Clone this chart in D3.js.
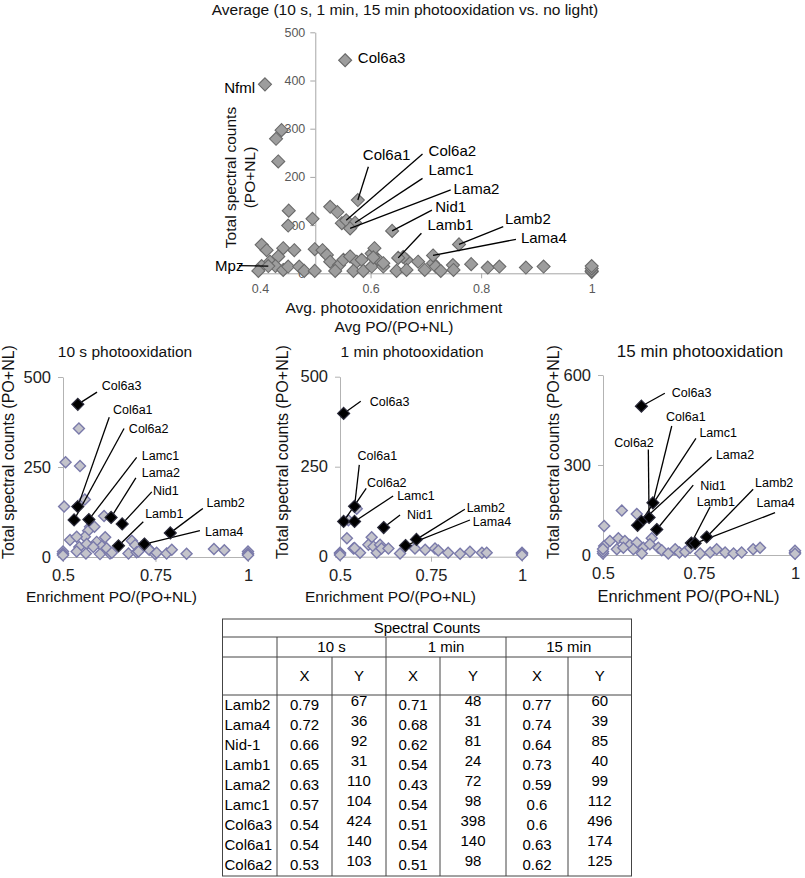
<!DOCTYPE html>
<html><head><meta charset="utf-8">
<script src="https://cdn.jsdelivr.net/npm/d3@7"></script>
<style>
body{margin:0;background:#fff}
svg text{font-family:Arial,"Liberation Sans",Helvetica,sans-serif}
</style>
</head><body>
<svg id="c" width="805" height="878"></svg>
<script>
// ---------------- DATA ----------------
// Top chart: averages of 10 s, 1 min, 15 min (x = Avg PO/(PO+NL), y = total spectral counts)
const avgOtherPoints = [
  [0.439,297],[0.429,279],[0.433,232],[0.452,130],[0.451,99],[0.495,113],[0.527,138],[0.540,127],[0.548,104],
  [0.403,59],[0.412,48],[0.442,52],[0.462,48],[0.433,35],[0.418,24],[0.403,15],[0.397,5],[0.428,15],[0.442,7],
  [0.451,14],[0.471,14],[0.480,5],[0.499,50],[0.513,48],[0.521,38],[0.499,5],[0.527,24],[0.543,17],[0.551,28],
  [0.563,35],[0.575,24],[0.584,28],[0.569,5],[0.587,5],[0.536,5],[0.602,41],[0.607,52],[0.602,14],[0.614,28],
  [0.623,14],[0.605,33],[0.623,21],[0.647,5],[0.665,28],[0.659,34],[0.686,24],[0.665,7],[0.698,7],[0.713,21],
  [0.718,14],[0.727,5],[0.749,17],[0.750,7],[0.782,19],[0.812,12],[0.833,14],[0.881,12],[0.913,14],
  [1,3],[1,5],[1,10],[1,15]
];
const avgLabelNames = ["Col6a3","Nfml","Mpz","Col6a1","Col6a2","Lamc1","Lama2","Nid1","Lamb1","Lamb2","Lama4"];
const avgLabelX     = [0.554, 0.409, 0.415, 0.577, 0.556, 0.572, 0.563, 0.639, 0.650, 0.760, 0.713];
const avgLabelY     = [442,   392,   15,    152,   110,   105,   93,    88,    32,    60,    37];

// Table (also the highlighted points of the three small charts)
const tableGenes = ["Lamb2","Lama4","Nid-1","Lamb1","Lama2","Lamc1","Col6a3","Col6a1","Col6a2"];
const chartGenes = ["Lamb2","Lama4","Nid1","Lamb1","Lama2","Lamc1","Col6a3","Col6a1","Col6a2"];
const x10s  = [0.79,0.72,0.66,0.65,0.63,0.57,0.54,0.54,0.53];
const y10s  = [67,36,92,31,110,104,424,140,103];
const x1min = [0.71,0.68,0.62,0.54,0.43,0.54,0.51,0.54,0.51];
const y1min = [48,31,81,24,72,98,398,140,98];
const x15min= [0.77,0.74,0.64,0.73,0.59,0.6,0.6,0.63,0.62];
const y15min= [60,39,85,40,99,112,496,174,125];
const xTable = ["0.79","0.72","0.66","0.65","0.63","0.57","0.54","0.54","0.53"];

// other (grey) points of the small charts
const other10s = [
  [0.543,357],[0.507,263],[0.546,253],[0.503,140],[0.559,160],[0.611,114],[0.573,84],[0.568,73],[0.585,84],
  [0.559,56],[0.519,47],[0.537,56],[0.544,28],[0.564,36],[0.591,42],[0.614,55],[0.605,30],[0.5,15],[0.5,10],
  [0.5,8],[0.5,5],[0.537,15],[0.562,10],[0.582,28],[0.6,8],[0.627,10],[0.618,24],[0.632,12],[0.677,10],
  [0.686,45],[0.695,33],[0.699,13],[0.704,15],[0.73,24],[0.733,20],[0.749,8],[0.753,12],[0.78,10],[0.794,20],
  [0.834,9],[0.908,22],[0.936,19],[1,15],[1,10],[1,8],[1,5]
];
const other1min = [
  [0.546,133],[0.523,101],[0.519,51],[0.537,23],[0.555,11],[0.587,54],[0.578,33],[0.592,28],[0.601,11],
  [0.61,33],[0.614,23],[0.633,23],[0.665,9],[0.706,23],[0.734,19],[0.761,23],[0.77,17],[0.797,11],[0.83,8],
  [0.857,14],[0.89,11],[0.903,11],[0.54,24],[1,11],[1,8],[1,5],[0.5,11],[0.5,8],[0.5,5]
];
const other15min = [
  [0.549,148],[0.588,137],[0.503,97],[0.503,30],[0.518,47],[0.54,56],[0.557,47],[0.57,33],[0.588,41],
  [0.605,24],[0.627,56],[0.622,36],[0.644,24],[0.653,16],[0.67,5],[0.688,19],[0.699,8],[0.714,11],[0.727,24],
  [0.753,5],[0.779,8],[0.796,19],[0.818,8],[0.84,5],[0.861,8],[0.891,19],[0.909,24],[0.5,5],[0.5,12],[0.5,20],
  [0.536,19],[0.553,24],[0.579,19],[0.601,5],[1,8],[1,14],[1,4]
];
const labeled10s  = ["Col6a3","Col6a1","Col6a2","Lamc1","Lama2","Nid1","Lamb1","Lamb2","Lama4"];
const labeled1min = ["Col6a3","Col6a1","Col6a2","Lamc1","Nid1","Lamb2","Lama4"];
const labeled15min= ["Col6a3","Col6a1","Col6a2","Lamc1","Lama2","Nid1","Lamb1","Lamb2","Lama4"];

const titles = ["10 s photooxidation","1 min photooxidation","15 min photooxidation"];
const topTicksX = [0.4,0.6,0.8,1], topTicksY = [0,100,200,300,400,500];
const smallTicksX = [0.5,0.75,1];

// ---------------- LAYOUT (annotation placement in data units) ----------------
// [name, labelX, labelY, anchor, leaderStartX, leaderStartY]
const annTop = [
  ["Col6a3",0.577,436,"start",null,null],["Nfml",0.391,374,"end",null,null],["Mpz",0.370,5,"end",0.362,16],
  ["Col6a1",0.586,235,"start",0.596,221],["Col6a2",0.705,243,"start",0.694,247.5],["Lamc1",0.705,204,"start",0.694,197],
  ["Lama2",0.75,164.5,"start",0.745,173],["Nid1",0.717,127,"start",0.711,131],["Lamb1",0.703,90,"start",0.692,83],
  ["Lamb2",0.843,102,"start",0.84,96.7],["Lama4",0.872,63,"start",0.863,70.5]
];
const ann10s = [
  ["Col6a3",0.605,463,0.592,458],["Col6a1",0.635,397,0.625,388],["Col6a2",0.678,344,0.665,357],
  ["Lamc1",0.713,269,0.699,277],["Lama2",0.713,222,0.697,220],["Nid1",0.743,172,0.74,181],
  ["Lamb1",0.722,108,0.717,98],["Lamb2",0.888,139,0.878,135],["Lama4",0.884,59,0.87,73]
];
const ann1min = [
  ["Col6a3",0.582,419,0.557,432],["Col6a1",0.548,269,0.553,255],["Col6a2",0.574,194,0.572,190],
  ["Lamc1",0.657,157.5,0.646,168.6],["Nid1",0.684,105,0.665,116],["Lamb2",0.848,125,0.843,132],
  ["Lama4",0.865,85,0.857,102]
];
const ann15min = [
  ["Col6a3",0.679,528,0.661,539],["Col6a1",0.664,448,0.679,430],["Lamc1",0.751,392,0.742,389],
  ["Col6a2",0.529,361,0.618,352],["Lama2",0.794,319,0.783,326],["Nid1",0.753,217,0.735,233],
  ["Lamb1",0.744,163,0.779,161],["Lamb2",0.896,226,0.891,219],["Lama4",0.9,159,0.948,141]
];

// ---------------- DRAW ----------------
const svg = d3.select("#c");
const diamond = r => `M0,${-r}L${r},0L0,${r}L${-r},0Z`;
const fmt = d => d3.format("")(d);

// ===== Top chart =====
{
  const x = d3.scaleLinear().domain([0.4,1]).range([260,591.7]);
  const y = d3.scaleLinear().domain([0,500]).range([273.3,32.3]);
  const g = svg.append("g");
  g.append("text").attr("x",405).attr("y",15).attr("text-anchor","middle")
    .attr("font-size","15.5px").attr("fill","#111").text("Average (10 s, 1 min, 15 min photooxidation vs. no light)");

  const ax = g.append("g").attr("transform",`translate(0,${y(0)})`)
    .call(d3.axisBottom(x).tickValues(topTicksX).tickFormat(fmt).tickSize(5).tickSizeOuter(0).tickPadding(6));
  const ay = g.append("g").attr("transform",`translate(${x(0.5)},0)`)
    .call(d3.axisLeft(y).tickValues(topTicksY).tickSize(5).tickSizeOuter(0).tickPadding(5));
  [ax,ay].forEach(a=>{
    a.select(".domain").attr("stroke","#a6a6a6");
    a.selectAll(".tick line").attr("stroke","#a6a6a6");
    a.selectAll(".tick text").attr("fill","#595959").attr("font-size","12.5px").attr("font-family","Arial,'Liberation Sans',sans-serif");
  });
  ax.select(".tick line").remove();

  // axis titles
  const yt = g.append("text").attr("transform","rotate(-90)").attr("text-anchor","middle")
    .attr("font-size","15.5px").attr("fill","#111");
  yt.append("tspan").attr("x",-177.5).attr("y",236).text("Total spectral counts");
  yt.append("tspan").attr("x",-177.5).attr("y",255).text("(PO+NL)");
  const xt = g.append("text").attr("text-anchor","middle").attr("font-size","15.5px").attr("fill","#111");
  xt.append("tspan").attr("x",394).attr("y",313).text("Avg. photooxidation enrichment");
  xt.append("tspan").attr("x",394).attr("y",331.5).text("Avg PO/(PO+NL)");

  const pts = avgOtherPoints.map(d=>({x:d[0],y:d[1]}))
    .concat(avgLabelNames.map((n,i)=>({x:avgLabelX[i],y:avgLabelY[i],n})));
  g.append("g").selectAll("path").data(pts).join("path")
    .attr("d",diamond(6.5)).attr("transform",d=>`translate(${x(d.x)},${y(d.y)})`)
    .attr("fill","#9d9d9d").attr("stroke","#6a6a6a").attr("stroke-width",1.1);

  annTop.forEach(a=>{
    const i = avgLabelNames.indexOf(a[0]);
    if(a[4]!==null){
      g.append("line").attr("x1",x(a[4])).attr("y1",y(a[5])).attr("x2",x(avgLabelX[i])).attr("y2",y(avgLabelY[i]))
        .attr("stroke","#000").attr("stroke-width",1.3);
    }
    g.append("text").attr("x",x(a[1])).attr("y",y(a[2])).attr("text-anchor",a[3])
      .attr("font-size","15px").attr("fill","#000").text(a[0]);
  });
}

// ===== Small charts =====
const panels = [
  {title:titles[0], tx:125, tfs:15.5, xr:[63,248], yd:[0,500], yr:[557,377], yt:[0,250,500], xs:x10s, ys:y10s,
   other:other10s, lab:labeled10s, ann:ann10s, ylab:14, xlabC:111.5, xfs:15.5},
  {title:titles[1], tx:412, tfs:15.5, xr:[340,522], yd:[0,500], yr:[556.7,376.7], yt:[0,250,500], xs:x1min, ys:y1min,
   other:other1min, lab:labeled1min, ann:ann1min, ylab:288, xlabC:390.5, xfs:15.5},
  {title:titles[2], tx:700, tfs:17, xr:[603,795], yd:[0,600], yr:[555,375], yt:[0,300,600], xs:x15min, ys:y15min,
   other:other15min, lab:labeled15min, ann:ann15min, ylab:559, xlabC:688.5, xfs:16.5}
];
panels.forEach(p=>{
  const x = d3.scaleLinear().domain([0.5,1]).range(p.xr);
  const y = d3.scaleLinear().domain(p.yd).range(p.yr);
  const g = svg.append("g");
  g.append("text").attr("x",p.tx).attr("y",357).attr("text-anchor","middle")
    .attr("font-size",p.tfs+"px").attr("fill","#111").text(p.title);
  const ax = g.append("g").attr("transform",`translate(0,${y(0)})`)
    .call(d3.axisBottom(x).tickValues(smallTicksX).tickFormat(fmt).tickSize(5).tickSizeOuter(0).tickPadding(7.5));
  const ay = g.append("g").attr("transform",`translate(${x(0.5)},0)`)
    .call(d3.axisLeft(y).tickValues(p.yt).tickSize(5).tickSizeOuter(0).tickPadding(7));
  [ax,ay].forEach(a=>{
    a.select(".domain").attr("stroke","#b3b3b3");
    a.selectAll(".tick line").attr("stroke","#b3b3b3");
    a.selectAll(".tick text").attr("fill","#222").attr("font-size","16.5px").attr("font-family","Arial,'Liberation Sans',sans-serif");
  });
  g.append("text").attr("transform","rotate(-90)").attr("x",-452).attr("y",p.ylab)
    .attr("text-anchor","middle").attr("font-size","16px").attr("fill","#111").text("Total spectral counts (PO+NL)");
  g.append("text").attr("x",p.xlabC).attr("y",601.5).attr("text-anchor","middle")
    .attr("font-size",p.xfs+"px").attr("fill","#111").text("Enrichment PO/(PO+NL)");

  // grey points
  g.append("g").selectAll("path").data(p.other).join("path")
    .attr("d",diamond(5.5)).attr("transform",d=>`translate(${x(d[0])},${y(d[1])})`)
    .attr("fill","#c4c4cb").attr("stroke","#7a7aaa").attr("stroke-width",1.4);
  // leader lines
  p.ann.forEach(a=>{
    const i = chartGenes.indexOf(a[0]);
    g.append("line").attr("x1",x(a[3])).attr("y1",y(a[4])).attr("x2",x(p.xs[i])).attr("y2",y(p.ys[i]))
      .attr("stroke","#000").attr("stroke-width",1.3);
    g.append("text").attr("x",x(a[1])).attr("y",y(a[2])).attr("font-size","12.5px").attr("fill","#000").text(a[0]);
  });
  // highlighted (black) points
  const hi = p.lab.map(n=>{const i=chartGenes.indexOf(n); return [p.xs[i],p.ys[i]];});
  g.append("g").selectAll("path").data(hi).join("path")
    .attr("d",diamond(6)).attr("transform",d=>`translate(${x(d[0])},${y(d[1])})`)
    .attr("fill","#000").attr("stroke","#2a2a3a").attr("stroke-width",1.2);
});

// ===== Table =====
{
  const T = {x0:222.5, x1:631.5, y0:619, y1:876};
  const colX = [222.5,277,332,386,440,506,568,631.5];
  const rowH = 20.1;
  const g = svg.append("g").attr("font-size","15px").attr("fill","#000");
  const ln = (x1,y1,x2,y2)=>g.append("line").attr("x1",x1).attr("y1",y1).attr("x2",x2).attr("y2",y2)
      .attr("stroke","#444").attr("stroke-width",1);
  g.append("rect").attr("x",T.x0).attr("y",T.y0).attr("width",T.x1-T.x0).attr("height",T.y1-T.y0)
    .attr("fill","none").attr("stroke","#444").attr("stroke-width",1);
  ln(T.x0,637,T.x1,637); ln(T.x0,657,T.x1,657); ln(T.x0,695,T.x1,695);
  [colX[1],colX[3],colX[5]].forEach(cx=>ln(cx,637,cx,T.y1));
  [colX[2],colX[4],colX[6]].forEach(cx=>ln(cx,657,cx,T.y1));
  const txt=(x,y,t,anchor)=>g.append("text").attr("x",x).attr("y",y).attr("text-anchor",anchor||"middle").text(t);
  txt((T.x0+T.x1)/2,633,"Spectral Counts");
  txt((colX[1]+colX[3])/2,652,"10 s"); txt((colX[3]+colX[5])/2,652,"1 min"); txt((colX[5]+colX[7])/2,652,"15 min");
  for(let c=1;c<7;c++) txt((colX[c]+colX[c+1])/2,681,c%2===1?"X":"Y");
  const cols = [x10s,y10s,x1min,y1min,x15min,y15min];
  tableGenes.forEach((n,r)=>{
    const base = 695 + r*rowH + 14.5;
    txt(T.x0+2,base,n,"start");
    cols.forEach((arr,c)=>{
      const v = c===0 ? xTable[r] : String(arr[r]);
      txt((colX[c+1]+colX[c+2])/2, c%2===1 ? base-4 : base, v);
    });
  });
}
</script>
</body></html>
